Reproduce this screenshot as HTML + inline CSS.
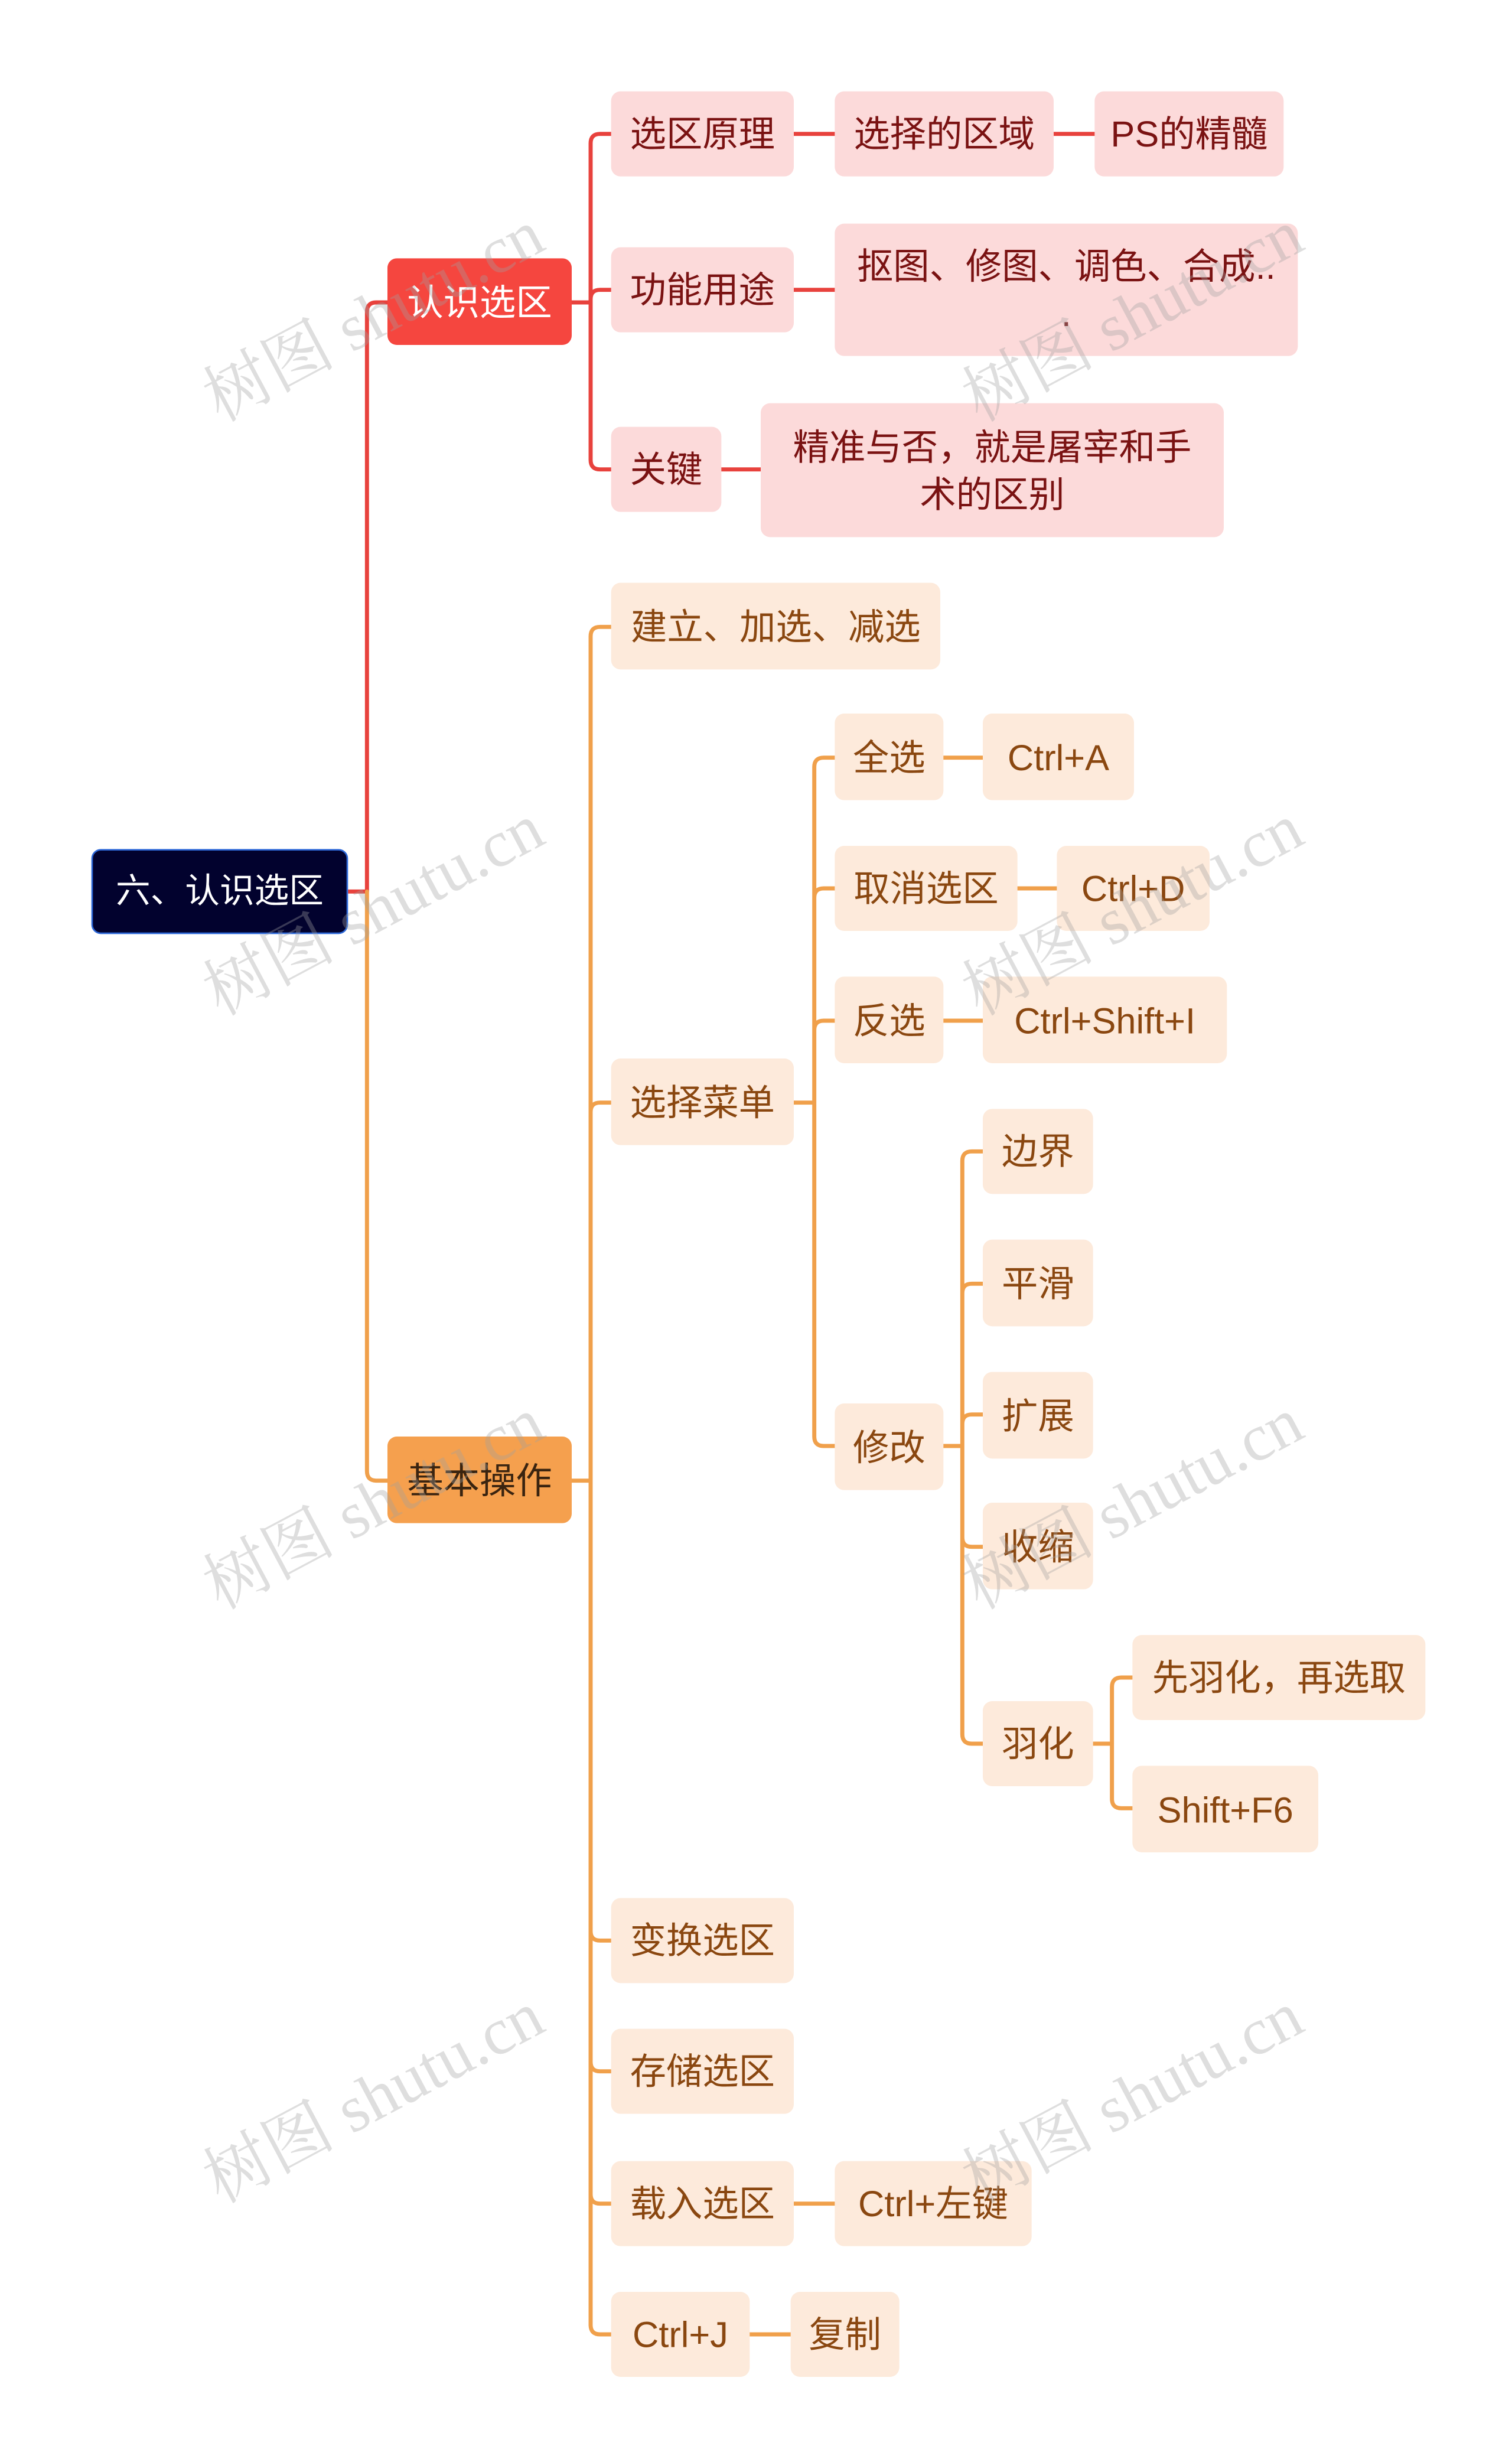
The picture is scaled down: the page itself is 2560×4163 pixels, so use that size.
<!DOCTYPE html>
<html><head><meta charset="utf-8"><style>
html,body{margin:0;padding:0;background:#fff;}
body{width:2560px;height:4162px;overflow:hidden;position:relative;}
#s{position:absolute;left:0;top:0;width:960px;height:1561px;transform:scale(2.666667);transform-origin:0 0;}
.n{position:absolute;display:flex;align-items:center;justify-content:center;text-align:center;border-radius:6px;font-family:"Liberation Sans","Noto Sans CJK SC",sans-serif;font-size:23px;line-height:30px;box-sizing:border-box;white-space:nowrap;}
.r{background:#fcdada;color:#7a1212;}
.o{background:#fdeadb;color:#8a4710;}
.wm{position:absolute;font-family:"Liberation Serif","Noto Serif CJK SC",serif;font-size:42px;color:rgba(160,160,160,0.35);transform:rotate(-28deg);white-space:nowrap;}
svg{position:absolute;left:0;top:0;}
</style></head><body><div id="s">
<svg width="960" height="1561" fill="none" stroke-width="2.6" stroke-linecap="round">
<g stroke="#e8423d">
<path d="M221 566 H233 M233 566 V198 Q233 192 239 192 H246"/>
<path d="M363 192 H375 M375 192 V91 Q375 85 381 85 H388 M375 192 V190 Q375 184 381 184 H388 M375 192 V292 Q375 298 381 298 H388"/>
<path d="M504 85 H530 M669 85 H695 M504 184 H530 M458 298 H483"/>
</g>
<g stroke="#f0a04b">
<path d="M233 566 V934 Q233 940 239 940 H246"/>
<path d="M363 940 H375 M375 940 V404 Q375 398 381 398 H388 M375 940 V706 Q375 700 381 700 H388 M375 940 V1226 Q375 1232 381 1232 H388 M375 940 V1309 Q375 1315 381 1315 H388 M375 940 V1393 Q375 1399 381 1399 H388 M375 940 V1476 Q375 1482 381 1482 H388"/>
<path d="M504 1399 H530 M476 1482 H502"/>
<path d="M504 700 H517 M517 700 V487 Q517 481 523 481 H530 M517 700 V570 Q517 564 523 564 H530 M517 700 V654 Q517 648 523 648 H530 M517 700 V912 Q517 918 523 918 H530"/>
<path d="M599 481 H624 M646 564 H671 M599 648 H624"/>
<path d="M599 918 H611 M611 918 V737 Q611 731 617 731 H624 M611 918 V821 Q611 815 617 815 H624 M611 918 V904 Q611 898 617 898 H624 M611 918 V976 Q611 982 617 982 H624 M611 918 V1101 Q611 1107 617 1107 H624"/>
<path d="M694 1107 H706 M706 1107 V1071 Q706 1065 712 1065 H719 M706 1107 V1142 Q706 1148 712 1148 H719"/>
</g>
</svg>
<div class="n" style="left:58px;top:539px;width:163px;height:54px;background:#02022e;border:1.5px solid #2d68d8;color:#fff;font-size:22px;">六、认识选区</div>
<div class="n" style="left:246px;top:164px;width:117px;height:55px;background:#f5463f;color:#fff;">认识选区</div>
<div class="n" style="left:246px;top:912px;width:117px;height:55px;background:#f5a04e;color:#3a2410;">基本操作</div>

<div class="n r" style="left:388px;top:58px;width:116px;height:54px;">选区原理</div>
<div class="n r" style="left:530px;top:58px;width:139px;height:54px;">选择的区域</div>
<div class="n r" style="left:695px;top:58px;width:120px;height:54px;">PS的精髓</div>
<div class="n r" style="left:388px;top:157px;width:116px;height:54px;">功能用途</div>
<div class="n r" style="left:530px;top:142px;width:294px;height:84px;line-height:30px;">抠图、修图、调色、合成..<br>.</div>
<div class="n r" style="left:388px;top:271px;width:70px;height:54px;">关键</div>
<div class="n r" style="left:483px;top:256px;width:294px;height:85px;">精准与否，就是屠宰和手<br>术的区别</div>

<div class="n o" style="left:388px;top:370px;width:209px;height:55px;">建立、加选、减选</div>
<div class="n o" style="left:388px;top:672px;width:116px;height:55px;">选择菜单</div>
<div class="n o" style="left:388px;top:1205px;width:116px;height:54px;">变换选区</div>
<div class="n o" style="left:388px;top:1288px;width:116px;height:54px;">存储选区</div>
<div class="n o" style="left:388px;top:1372px;width:116px;height:54px;">载入选区</div>
<div class="n o" style="left:530px;top:1372px;width:125px;height:54px;">Ctrl+左键</div>
<div class="n o" style="left:388px;top:1455px;width:88px;height:54px;">Ctrl+J</div>
<div class="n o" style="left:502px;top:1455px;width:69px;height:54px;">复制</div>

<div class="n o" style="left:530px;top:453px;width:69px;height:55px;">全选</div>
<div class="n o" style="left:624px;top:453px;width:96px;height:55px;">Ctrl+A</div>
<div class="n o" style="left:530px;top:537px;width:116px;height:54px;">取消选区</div>
<div class="n o" style="left:671px;top:537px;width:97px;height:54px;">Ctrl+D</div>
<div class="n o" style="left:530px;top:620px;width:69px;height:55px;">反选</div>
<div class="n o" style="left:624px;top:620px;width:155px;height:55px;">Ctrl+Shift+I</div>
<div class="n o" style="left:530px;top:891px;width:69px;height:55px;">修改</div>

<div class="n o" style="left:624px;top:704px;width:70px;height:54px;">边界</div>
<div class="n o" style="left:624px;top:787px;width:70px;height:55px;">平滑</div>
<div class="n o" style="left:624px;top:871px;width:70px;height:55px;">扩展</div>
<div class="n o" style="left:624px;top:954px;width:70px;height:55px;">收缩</div>
<div class="n o" style="left:624px;top:1080px;width:70px;height:54px;">羽化</div>
<div class="n o" style="left:719px;top:1038px;width:186px;height:54px;">先羽化，再选取</div>
<div class="n o" style="left:719px;top:1121px;width:118px;height:55px;">Shift+F6</div>

<div class="wm" style="left:118px;top:168px;">树图 shutu.cn</div>
<div class="wm" style="left:600px;top:168px;">树图 shutu.cn</div>
<div class="wm" style="left:118px;top:545px;">树图 shutu.cn</div>
<div class="wm" style="left:600px;top:545px;">树图 shutu.cn</div>
<div class="wm" style="left:118px;top:922px;">树图 shutu.cn</div>
<div class="wm" style="left:600px;top:922px;">树图 shutu.cn</div>
<div class="wm" style="left:118px;top:1299px;">树图 shutu.cn</div>
<div class="wm" style="left:600px;top:1299px;">树图 shutu.cn</div>
</div></body></html>
